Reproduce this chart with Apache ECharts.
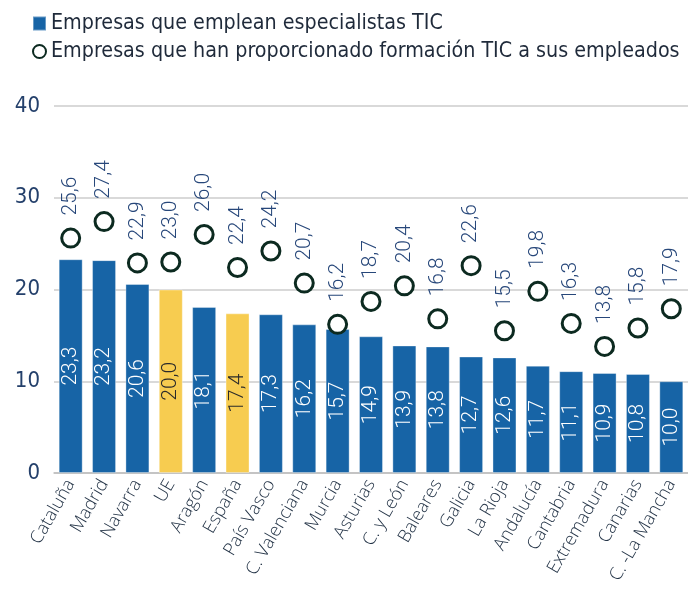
<!DOCTYPE html>
<html>
<head>
<meta charset="utf-8">
<script src="https://cdn.jsdelivr.net/npm/echarts@6/dist/echarts.min.js"></script>
<style>
  html, body { margin: 0; padding: 0; background: #fff; }
  #chart { width: 688px; height: 595px; }
</style>
</head>
<body>
<div id="chart"></div>
<script>
const regions = ['Cataluña', 'Madrid', 'Navarra', 'UE', 'Aragón', 'España', 'País Vasco',
  'C. Valenciana', 'Murcia', 'Asturias', 'C. y León', 'Baleares', 'Galicia', 'La Rioja',
  'Andalucía', 'Cantabria', 'Extremadura', 'Canarias', 'C. -La Mancha'];
const especialistas = [23.3, 23.2, 20.6, 20.0, 18.1, 17.4, 17.3, 16.2, 15.7, 14.9, 13.9,
  13.8, 12.7, 12.6, 11.7, 11.1, 10.9, 10.8, 10.0];
const formacion = [25.6, 27.4, 22.9, 23.0, 26.0, 22.4, 24.2, 20.7, 16.2, 18.7, 20.4,
  16.8, 22.6, 15.5, 19.8, 16.3, 13.8, 15.8, 17.9];
const highlighted = ['UE', 'España'];

const fmt = v => v.toFixed(1).replace('.', ',');
const blue = '#1764a6';
const yellow = '#f7cc50';
const narrow = 'Liberation Sans Narrow, DejaVu Sans Condensed, sans-serif';

const chart = echarts.init(document.getElementById('chart'));
chart.setOption({
  animation: false,
  legend: {
    orient: 'vertical',
    left: 27,
    top: 8,
    itemGap: 7,
    itemWidth: 13,
    itemHeight: 14,
    textStyle: { fontFamily: narrow, fontSize: 21.3, color: '#1f2a3a' },
    data: [
      { name: 'Empresas que emplean especialistas TIC', icon: 'rect', itemStyle: { color: blue } },
      { name: 'Empresas que han proporcionado formación TIC a sus empleados', icon: 'circle' },
    ],
  },
  grid: { left: 54, right: 0, top: 106, bottom: 122 },
  xAxis: {
    type: 'category',
    data: regions,
    axisTick: { show: false },
    axisLine: { lineStyle: { color: '#bdbdbd', width: 1.5 } },
    axisLabel: {
      rotate: 60,
      interval: 0,
      margin: 8,
      fontFamily: 'Open Sans, sans-serif',
      fontWeight: 300,
      fontSize: 18,
      color: '#243447',
    },
  },
  yAxis: {
    type: 'value',
    min: 0,
    max: 40,
    interval: 10,
    axisLabel: { fontFamily: narrow, fontSize: 22, color: '#24406b', margin: 14 },
    splitLine: { lineStyle: { color: '#cccccc', width: 1.5 } },
  },
  series: [
    {
      name: 'Empresas que emplean especialistas TIC',
      type: 'bar',
      barWidth: 24,
      data: especialistas.map((v, i) => ({
        value: v,
        itemStyle: { color: highlighted.includes(regions[i]) ? yellow : blue },
        label: { color: highlighted.includes(regions[i]) ? '#2a2a2a' : '#ffffff' },
      })),
      itemStyle: { color: blue, borderColor: 'rgba(255,255,255,0.35)', borderWidth: 1 },
      label: {
        show: true,
        position: 'inside',
        rotate: 90,
        fontFamily: 'Roboto, sans-serif',
        fontWeight: 300,
        fontSize: 21,
        formatter: p => fmt(p.value),
      },
      z: 2,
    },
    {
      name: 'Empresas que han proporcionado formación TIC a sus empleados',
      type: 'scatter',
      data: formacion,
      symbol: 'circle',
      symbolSize: 18,
      itemStyle: { color: '#ffffff', borderColor: '#0c2a20', borderWidth: 3, opacity: 1 },
      label: {
        show: true,
        position: 'top',
        distance: 12,
        rotate: 90,
        align: 'left',
        verticalAlign: 'middle',
        fontFamily: 'Roboto, sans-serif',
        fontWeight: 300,
        fontSize: 21,
        color: '#27477a',
        formatter: p => fmt(p.value),
      },
      z: 3,
    },
  ],
});
</script>
</body>
</html>
